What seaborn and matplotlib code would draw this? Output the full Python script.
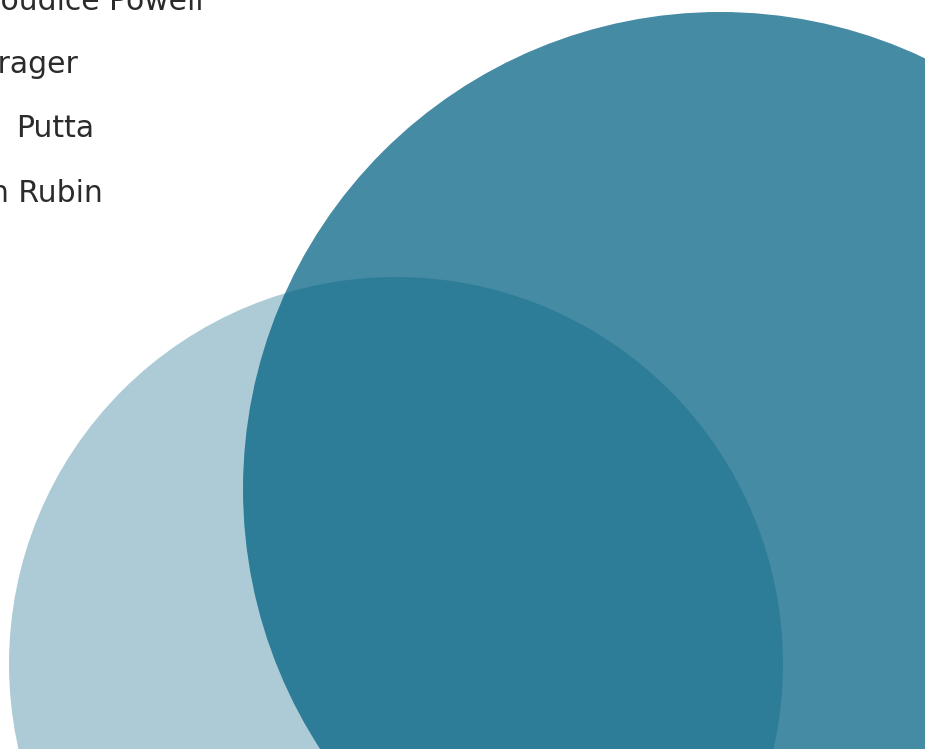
import matplotlib
matplotlib.use("Agg")
import matplotlib.pyplot as plt
from matplotlib.patches import Circle
import seaborn as sns

# circles (pixel space of the visible crop)
circle_x = [720, 396]
circle_y = [489, 664]
circle_r = [477, 387]
circle_alpha = [0.73, 0.32]
base_color = "#006081"

# names, cut off at the left edge of the picture
names = ["Boudice Powell", "Prager", "Putta", "n Rubin"]
name_right = [203, 78, 94, 103]
name_base = [10, 73, 137, 202]

sns.set_theme(style="white")
plt.rcParams["font.family"] = ["DejaVu Sans"]

fig = plt.figure(figsize=(9.25, 7.49), dpi=100)
ax = fig.add_axes([0, 0, 1, 1])
ax.set_xlim(0, 925)
ax.set_ylim(749, 0)
ax.set_aspect("equal")
ax.axis("off")

for x, y, r, a in zip(circle_x, circle_y, circle_r, circle_alpha):
    ax.add_patch(Circle((x, y), r, facecolor=base_color, alpha=a,
                        edgecolor="none", zorder=1))

for txt, xr, yb in zip(names, name_right, name_base):
    ax.text(xr, yb, txt, ha="right", va="baseline", fontsize=21.5,
            color="#2b2b2b", zorder=3)

fig.savefig("out.png", dpi=100)
